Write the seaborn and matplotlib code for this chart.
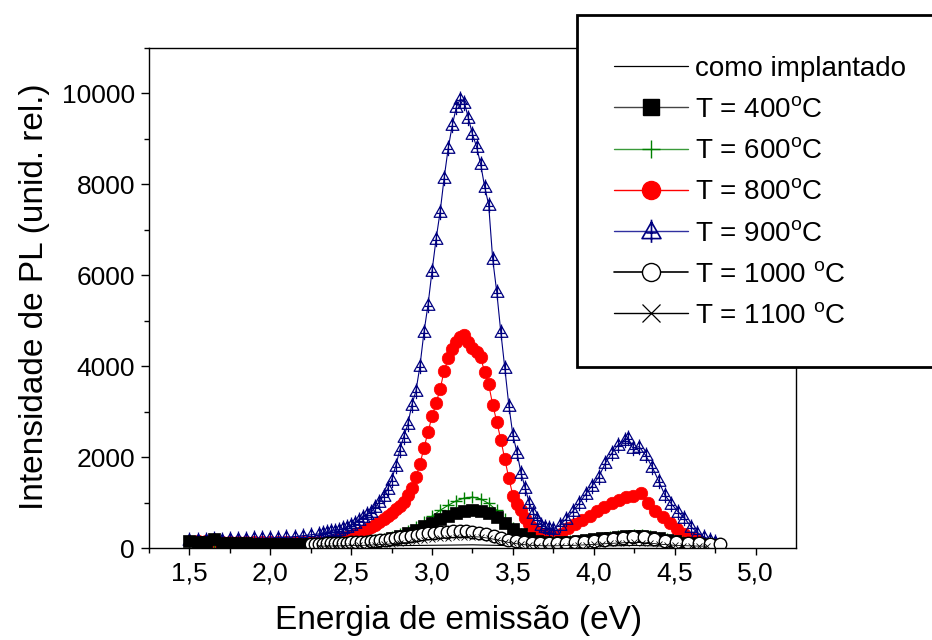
import numpy as np
import matplotlib
matplotlib.use("Agg")
import matplotlib.pyplot as plt
import seaborn as sns
from matplotlib.path import Path
from matplotlib.lines import Line2D
from matplotlib.patches import Rectangle
from matplotlib.ticker import FixedLocator, FuncFormatter

# ---- data (energy in eV, PL intensity in rel. units) ----
como_x = [1.50, 2.00, 2.50, 3.00, 3.25, 3.50, 4.00, 4.25, 4.50, 4.80]
como_y = [60, 40, 40, 60, 70, 50, 45, 55, 40, 30]

t400_x = [1.50, 1.55, 1.60, 1.65, 1.70, 1.75, 1.80, 1.85, 1.90, 1.95, 2.00, 2.05, 2.10,
          2.15, 2.20, 2.25, 2.30, 2.35, 2.40, 2.45, 2.50, 2.55, 2.60, 2.65, 2.70, 2.75,
          2.80, 2.85, 2.90, 2.95, 3.00, 3.05, 3.10, 3.15, 3.20, 3.25, 3.30, 3.35, 3.40,
          3.45, 3.50, 3.55, 3.60, 3.65, 3.70, 3.75, 3.80, 3.85, 3.90, 3.95, 4.00, 4.05,
          4.10, 4.15, 4.20, 4.25, 4.30, 4.35, 4.40, 4.45, 4.50, 4.55, 4.60, 4.65, 4.70, 4.75]
t400_y = [150, 140, 130, 190, 120, 110, 105, 100, 95, 95, 90, 90, 90,
          85, 85, 90, 90, 95, 100, 105, 110, 120, 135, 155, 180, 210,
          260, 320, 400, 480, 560, 640, 710, 770, 810, 830, 810, 760, 680,
          560, 420, 300, 210, 160, 130, 120, 125, 135, 150, 170, 190, 210,
          230, 250, 265, 275, 270, 250, 220, 185, 150, 120, 100, 85, 75, 70]

t600_x = t400_x
t600_y = [90, 88, 86, 85, 84, 82, 80, 80, 78, 78, 76, 76, 75,
          75, 75, 76, 78, 80, 90, 100, 110, 125, 145, 170, 200, 240,
          300, 370, 460, 570, 700, 830, 940, 1040, 1100, 1120, 1080, 980, 830,
          640, 450, 300, 200, 150, 130, 125, 130, 145, 160, 180, 200, 220,
          240, 260, 275, 285, 280, 260, 225, 190, 155, 125, 100, 85, 70, 60]

t800_x = [1.55, 1.60, 1.65, 1.70, 1.75, 1.80, 1.85, 1.90, 1.95, 2.00, 2.05, 2.10, 2.15,
          2.20, 2.25, 2.30, 2.350, 2.375, 2.400, 2.425, 2.450, 2.475, 2.500, 2.525,
          2.550, 2.575, 2.600, 2.625, 2.650, 2.675, 2.700, 2.725, 2.750, 2.775, 2.800,
          2.825, 2.850, 2.875, 2.900, 2.925, 2.950, 2.975, 3.000, 3.025, 3.050, 3.075,
          3.100, 3.125, 3.150, 3.175, 3.200, 3.225, 3.250, 3.275, 3.300, 3.325, 3.350,
          3.375, 3.400, 3.425, 3.450, 3.475, 3.500, 3.525, 3.550, 3.575, 3.600, 3.625,
          3.650, 3.675, 3.700, 3.725, 3.750, 3.795, 3.840, 3.885, 3.930, 3.975, 4.020,
          4.065, 4.110, 4.155, 4.200, 4.245, 4.290, 4.335, 4.380, 4.425, 4.470, 4.515,
          4.560, 4.605, 4.650]
t800_y = [150, 148, 145, 142, 140, 138, 136, 135, 135, 135, 135, 135, 135,
          135, 135, 138, 140, 150, 170, 190, 210, 235, 265, 300,
          335, 375, 420, 465, 510, 570, 630, 695, 770, 850, 930,
          1020, 1160, 1330, 1560, 1850, 2200, 2550, 2900, 3190, 3500, 3900,
          4180, 4380, 4530, 4650, 4680, 4540, 4390, 4310, 4200, 3870, 3600,
          3150, 2780, 2380, 1950, 1530, 1150, 970, 830, 650, 520, 430,
          360, 300, 270, 260, 260, 310, 430, 525, 620, 715, 815,
          905, 995, 1060, 1125, 1145, 1200, 980, 810, 690, 540, 410,
          310, 220, 150]

t900_x = [1.50, 1.55, 1.60, 1.65, 1.70, 1.75, 1.80, 1.85, 1.90, 1.95, 2.00, 2.05, 2.10,
          2.15, 2.20, 2.25, 2.30, 2.325, 2.350, 2.375, 2.400, 2.425, 2.450, 2.475,
          2.500, 2.525, 2.550, 2.575, 2.600, 2.625, 2.650, 2.675, 2.700, 2.725, 2.750,
          2.775, 2.800, 2.825, 2.850, 2.875, 2.900, 2.925, 2.950, 2.975, 3.000, 3.025,
          3.050, 3.075, 3.100, 3.125, 3.150, 3.175, 3.200, 3.225, 3.250, 3.275, 3.300,
          3.325, 3.350, 3.375, 3.400, 3.425, 3.450, 3.475, 3.500, 3.525, 3.550, 3.575,
          3.600, 3.625, 3.650, 3.675, 3.700, 3.725, 3.750, 3.790, 3.830, 3.870, 3.910,
          3.950, 3.990, 4.030, 4.070, 4.110, 4.150, 4.190, 4.210, 4.240, 4.280, 4.320,
          4.360, 4.400, 4.440, 4.480, 4.520, 4.560, 4.600, 4.640, 4.680, 4.720, 4.750]
t900_y = [180, 170, 180, 190, 185, 190, 200, 205, 210, 215, 220, 230, 235,
          250, 270, 290, 310, 325, 345, 365, 385, 405, 430, 470,
          510, 550, 610, 680, 740, 800, 900, 1020, 1150, 1300, 1500,
          1800, 2150, 2450, 2720, 3150, 3450, 4000, 4750, 5350, 6100, 6800,
          7400, 8150, 8800, 9300, 9700, 9880, 9800, 9450, 9100, 8830, 8450,
          7950, 7550, 6350, 5630, 4750, 3950, 3130, 2480, 2100, 1650, 1330,
          1000, 780, 630, 515, 460, 430, 425, 510, 640, 810, 985,
          1190, 1370, 1560, 1860, 2080, 2270, 2380, 2410, 2200, 2230, 2040,
          1790, 1480, 1160, 970, 800, 660, 470, 340, 250, 180, 135]

t1000_x = [2.250, 2.275, 2.300, 2.325, 2.350, 2.375, 2.400, 2.425, 2.450, 2.475, 2.500,
           2.530, 2.560, 2.590, 2.620, 2.650, 2.680, 2.710, 2.740, 2.770, 2.800, 2.835,
           2.870, 2.905, 2.940, 2.975, 3.010, 3.050, 3.090, 3.130, 3.170, 3.210, 3.250,
           3.290, 3.335, 3.380, 3.425, 3.470, 3.520, 3.570, 3.620, 3.670, 3.720, 3.775,
           3.830, 3.885, 3.940, 4.000, 4.060, 4.120, 4.180, 4.245, 4.310, 4.375, 4.440,
           4.510, 4.580, 4.650, 4.720, 4.780]
t1000_y = [90, 92, 95, 97, 100, 103, 106, 110, 114, 118, 122,
           128, 134, 141, 149, 160, 172, 185, 200, 215, 232, 250,
           270, 290, 308, 326, 340, 353, 363, 370, 373, 370, 360,
           335, 300, 260, 220, 185, 155, 134, 120, 110, 107, 108,
           114, 124, 138, 155, 180, 205, 230, 244, 236, 200, 165,
           135, 115, 104, 96, 90]

t1100_x = [2.30, 2.35, 2.40, 2.45, 2.50, 2.55, 2.60, 2.65, 2.70, 2.75, 2.80, 2.85, 2.90,
           2.95, 3.00, 3.05, 3.10, 3.15, 3.20, 3.25, 3.30, 3.35, 3.40, 3.45, 3.50, 3.55,
           3.60, 3.65, 3.70, 3.75, 3.80, 3.85, 3.90, 3.95, 4.00, 4.05, 4.10, 4.15, 4.20,
           4.25, 4.30, 4.35, 4.40, 4.45, 4.50, 4.55, 4.60, 4.65, 4.70]
t1100_y = [40, 42, 45, 48, 52, 56, 62, 70, 80, 92, 108, 126, 146,
           168, 190, 210, 228, 240, 248, 250, 240, 215, 180, 140, 105, 80,
           62, 52, 48, 48, 50, 55, 62, 70, 80, 90, 100, 110, 118,
           122, 118, 105, 88, 72, 60, 52, 46, 42, 40]

labels = ["como implantado", r"T = 400$^\mathrm{o}$C", r"T = 600$^\mathrm{o}$C",
          r"T = 800$^\mathrm{o}$C", r"T = 900$^\mathrm{o}$C", r"T = 1000 $^\mathrm{o}$C",
          r"T = 1100 $^\mathrm{o}$C"]

# triangle with a cross inside (Origin style)
tri_cross = Path(
    [(-1, -0.75), (1, -0.75), (0, 1.0), (-1, -0.75),
     (0, 1.25), (0, -1.2), (-0.55, -0.15), (0.55, -0.15)],
    [Path.MOVETO, Path.LINETO, Path.LINETO, Path.CLOSEPOLY,
     Path.MOVETO, Path.LINETO, Path.MOVETO, Path.LINETO])

sns.set_style("ticks")
plt.rcParams["font.family"] = ["Liberation Sans", "DejaVu Sans"]
plt.rcParams["mathtext.fontset"] = "custom"
plt.rcParams["mathtext.rm"] = "Liberation Sans"
plt.rcParams["mathtext.it"] = "Liberation Sans:italic"
plt.rcParams["text.color"] = "black"
plt.rcParams["axes.labelcolor"] = "black"

fig = plt.figure(figsize=(9.32, 6.4), dpi=100)
ax = fig.add_axes([149 / 932, 1 - 548 / 640, (796 - 149) / 932, (548 - 48) / 640])

common = dict(ax=ax, sort=False, estimator=None, legend=False)
sns.lineplot(x=como_x, y=como_y, color="black", linewidth=0.8, **common)
sns.lineplot(x=t800_x, y=t800_y, color="red", linewidth=0.8, marker="o",
             markersize=9, markeredgecolor="red", markeredgewidth=0.5, **common)
sns.lineplot(x=t900_x, y=t900_y, color="#000080", linewidth=0.8, marker=tri_cross,
             markersize=11.5, markerfacecolor="none", markeredgecolor="#000080",
             markeredgewidth=0.9, **common)
sns.lineplot(x=t600_x, y=t600_y, color="green", linewidth=0.8, marker="+",
             markersize=9, markeredgecolor="green", markeredgewidth=1.0, **common)
sns.lineplot(x=t400_x, y=t400_y, color="black", linewidth=0.8, marker="s",
             markersize=8, markeredgecolor="black", markeredgewidth=0.5, **common)
sns.lineplot(x=t1000_x, y=t1000_y, color="black", linewidth=0.8, marker="o",
             markersize=9, markerfacecolor="white", markeredgecolor="black",
             markeredgewidth=1.0, **common)
sns.lineplot(x=t1100_x, y=t1100_y, color="black", linewidth=0.6, marker="x",
             markersize=5, markeredgecolor="black", markeredgewidth=0.6, **common)

ax.set_xlim(1.25, 5.25)
ax.set_ylim(0, 11000)
ax.xaxis.set_major_locator(FixedLocator([1.5, 2.0, 2.5, 3.0, 3.5, 4.0, 4.5, 5.0]))
ax.xaxis.set_minor_locator(FixedLocator([1.25, 1.75, 2.25, 2.75, 3.25, 3.75, 4.25, 4.75]))
ax.yaxis.set_major_locator(FixedLocator([0, 2000, 4000, 6000, 8000, 10000]))
ax.yaxis.set_minor_locator(FixedLocator([1000, 3000, 5000, 7000, 9000, 11000]))
ax.xaxis.set_major_formatter(FuncFormatter(lambda v, p: f"{v:.1f}".replace(".", ",")))
ax.yaxis.set_major_formatter(FuncFormatter(lambda v, p: f"{int(v)}"))
ax.tick_params(which="both", direction="out", top=False, right=False, width=1.0,
               labelsize=19, color="black", labelcolor="black")
ax.tick_params(which="major", length=5, pad=5)
ax.tick_params(which="minor", length=3.5)
ax.tick_params(axis="y", which="major", length=6, pad=4)
for s in ax.spines.values():
    s.set_visible(True)
    s.set_linewidth(1.0)
    s.set_color("black")
ax.set_xlabel("")
ax.set_ylabel("")

fig.text(459 / 932, 1 - 621 / 640, "Energia de emissão (eV)", fontsize=24,
         ha="center", va="center", color="black")
fig.text(35 / 932, 1 - 297 / 640, "Intensidade de PL (unid. rel.)", fontsize=24,
         rotation=90, ha="center", va="center", color="black")

# legend frame (runs off the right edge like the reference)
fig.add_artist(Rectangle((577 / 932, 1 - 367 / 640), (945 - 577) / 932, (367 - 15) / 640,
                         transform=fig.transFigure, facecolor="white", edgecolor="black",
                         linewidth=2.0, zorder=4))

handles = [
    Line2D([], [], color="black", linewidth=0.9),
    Line2D([], [], color="#444444", linewidth=1.0, marker="s", markersize=11.5,
           markerfacecolor="black", markeredgecolor="black"),
    Line2D([], [], color="#3a9a3a", linewidth=1.0, marker="+", markersize=13,
           markeredgecolor="green", markeredgewidth=1.0),
    Line2D([], [], color="red", linewidth=1.0, marker="o", markersize=13,
           markerfacecolor="red", markeredgecolor="red"),
    Line2D([], [], color="#3030a0", linewidth=1.0, marker=tri_cross, markersize=17,
           markerfacecolor="none", markeredgecolor="#000080", markeredgewidth=1.2),
    Line2D([], [], color="black", linewidth=1.2, marker="o", markersize=13,
           markerfacecolor="white", markeredgecolor="black", markeredgewidth=1.0),
    Line2D([], [], color="black", linewidth=1.0, marker="x", markersize=13,
           markeredgecolor="black", markeredgewidth=0.9),
]
leg = fig.legend(handles, labels, loc="upper left", bbox_to_anchor=(614 / 932, 1 - 56 / 640),
                 frameon=False, fontsize=20, handlelength=2.65, handletextpad=0.25,
                 labelspacing=0.545, borderpad=0, borderaxespad=0)
for t in leg.get_texts():
    t.set_color("black")
leg.set_zorder(5)

fig.savefig("out.png", dpi=100)
